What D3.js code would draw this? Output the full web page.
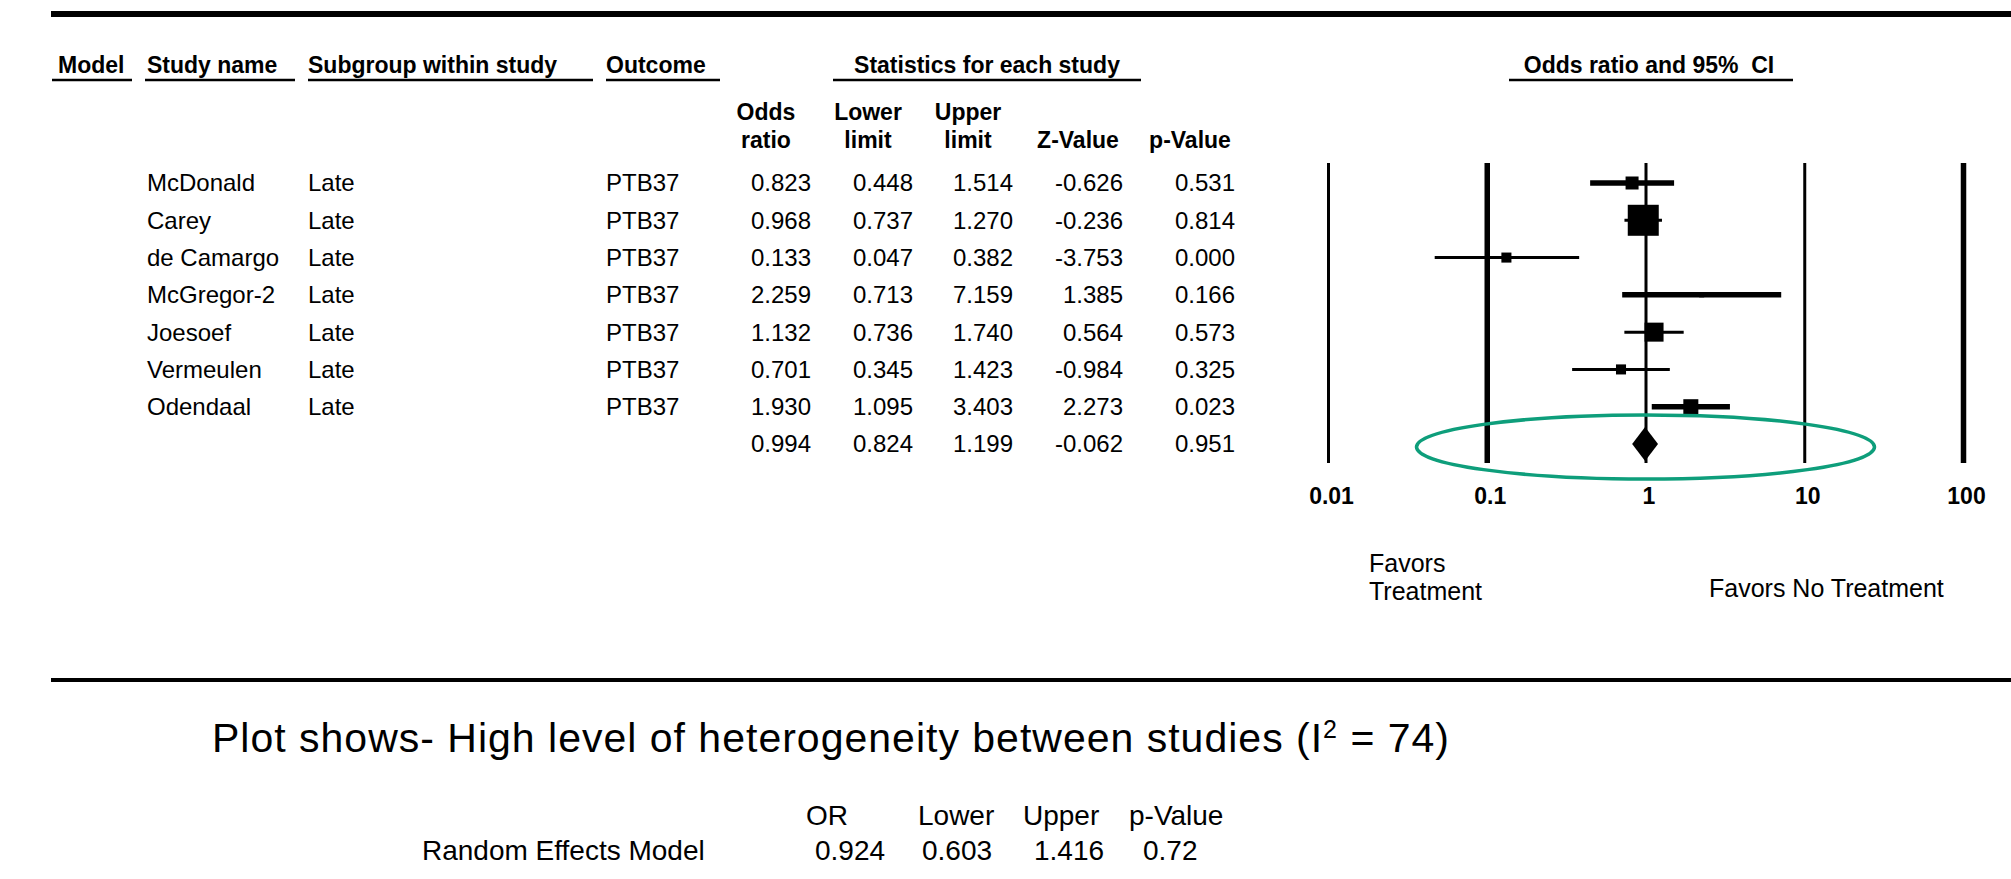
<!DOCTYPE html>
<html>
<head>
<meta charset="utf-8">
<script src="https://cdn.jsdelivr.net/npm/d3@7"></script>
<style>
  body { margin: 0; background: #fff; }
  svg { display: block; font-family: "Liberation Sans", Arial, sans-serif; }
</style>
</head>
<body>
<div id="forest"></div>
<script>
// Study rows
const studies = ["McDonald", "Carey", "de Camargo", "McGregor-2", "Joesoef", "Vermeulen", "Odendaal"];
const subgroups = ["Late", "Late", "Late", "Late", "Late", "Late", "Late"];
const outcomes = ["PTB37", "PTB37", "PTB37", "PTB37", "PTB37", "PTB37", "PTB37"];
const oddsRatio = [0.823, 0.968, 0.133, 2.259, 1.132, 0.701, 1.930];
const lowerLimit = [0.448, 0.737, 0.047, 0.713, 0.736, 0.345, 1.095];
const upperLimit = [1.514, 1.270, 0.382, 7.159, 1.740, 1.423, 3.403];
const zValue = [-0.626, -0.236, -3.753, 1.385, 0.564, -0.984, 2.273];
const pValue = [0.531, 0.814, 0.000, 0.166, 0.573, 0.325, 0.023];
// relative weight (%)
const weights = [8.7, 49.5, 5.2, 1.3, 18.6, 5.2, 11.6];

// Pooled (fixed) row: OR, lower, upper, Z, p
const pooled = [0.994, 0.824, 1.199, -0.062, 0.951];

// Axis
const tickValues = [0.01, 0.1, 1, 10, 100];
const tickLabels = ["0.01", "0.1", "1", "10", "100"];

// Random effects summary under the plot
const randomHeaders = ["OR", "Lower", "Upper", "p-Value"];
const randomValues = ["0.924", "0.603", "1.416", "0.72"];

const svgWidth = 2011;
const svgHeight = 879;

const svg = d3.select("#forest")
    .append("svg")
    .attr("width", svgWidth)
    .attr("height", svgHeight);

svg.append("rect").attr("width", svgWidth).attr("height", svgHeight).attr("fill", "#fff");

// Scales
const x = d3.scaleLog().domain([0.01, 100]).range([1328, 1963]);
const rowY = d3.scalePoint().domain(d3.range(studies.length + 1)).range([183, 444]);
const boxSize = d3.scaleSqrt().domain([0, d3.max(weights)]).range([0, 31]);

// Horizontal rules
svg.append("line").attr("x1", 51).attr("x2", svgWidth).attr("y1", 14).attr("y2", 14)
    .attr("stroke", "#000").attr("stroke-width", 6);
svg.append("line").attr("x1", 51).attr("x2", svgWidth).attr("y1", 680).attr("y2", 680)
    .attr("stroke", "#000").attr("stroke-width", 4);

// Column headers
const headers = [
    { text: "Model", x: 58, anchor: "start", u: [52, 132] },
    { text: "Study name", x: 147, anchor: "start", u: [145, 295] },
    { text: "Subgroup within study", x: 308, anchor: "start", u: [308, 593] },
    { text: "Outcome", x: 606, anchor: "start", u: [606, 720] },
    { text: "Statistics for each study", x: 987, anchor: "middle", u: [833, 1141] },
    { text: "Odds ratio and 95%  CI", x: 1649, anchor: "middle", u: [1509, 1793] }
];

svg.append("g").selectAll("text")
    .data(headers)
    .join("text")
    .attr("x", d => d.x)
    .attr("y", 73)
    .attr("text-anchor", d => d.anchor)
    .attr("font-size", 23)
    .attr("font-weight", "bold")
    .style("white-space", "pre")
    .text(d => d.text);

svg.append("g").selectAll("line")
    .data(headers)
    .join("line")
    .attr("x1", d => d.u[0])
    .attr("x2", d => d.u[1])
    .attr("y1", 80)
    .attr("y2", 80)
    .attr("stroke", "#000")
    .attr("stroke-width", 2.5);

// Statistic columns (right edges)
const colRight = [811, 913, 1013, 1123, 1235];
const subHeads = [["Odds", "ratio"], ["Lower", "limit"], ["Upper", "limit"], ["", "Z-Value"], ["", "p-Value"]];

const subG = svg.append("g")
    .attr("font-size", 23)
    .attr("font-weight", "bold")
    .attr("text-anchor", "middle");
subHeads.forEach((lines, i) => {
    lines.forEach((t, j) => {
        subG.append("text")
            .attr("x", colRight[i] - 45)
            .attr("y", j === 0 ? 120 : 148)
            .text(t);
    });
});

// Study text rows
const rows = studies.map((s, i) => ({
    i, name: s, sub: subgroups[i], out: outcomes[i],
    stats: [oddsRatio[i], lowerLimit[i], upperLimit[i], zValue[i], pValue[i]]
}));

const rowG = svg.append("g").attr("font-size", 24);

rowG.selectAll(".name")
    .data(rows)
    .join("text")
    .attr("class", "name")
    .attr("x", 147)
    .attr("y", d => rowY(d.i))
    .attr("dy", "0.35em")
    .text(d => d.name);

rowG.selectAll(".sub")
    .data(rows)
    .join("text")
    .attr("class", "sub")
    .attr("x", 308)
    .attr("y", d => rowY(d.i))
    .attr("dy", "0.35em")
    .text(d => d.sub);

rowG.selectAll(".out")
    .data(rows)
    .join("text")
    .attr("class", "out")
    .attr("x", 606)
    .attr("y", d => rowY(d.i))
    .attr("dy", "0.35em")
    .text(d => d.out);

const statCells = [];
rows.forEach(r => r.stats.forEach((v, c) => statCells.push({ row: r.i, col: c, v })));
pooled.forEach((v, c) => statCells.push({ row: studies.length, col: c, v }));

rowG.selectAll(".stat")
    .data(statCells)
    .join("text")
    .attr("class", "stat")
    .attr("x", d => colRight[d.col])
    .attr("y", d => rowY(d.row))
    .attr("dy", "0.35em")
    .attr("text-anchor", "end")
    .text(d => d.v.toFixed(3));

// Axis with full-height tick lines
const axis = d3.axisBottom(x)
    .tickValues(tickValues)
    .tickFormat((d, i) => tickLabels[i])
    .tickSize(300)
    .tickPadding(25);

const axisG = svg.append("g")
    .attr("transform", "translate(0,163)")
    .call(axis)
    .attr("font-size", 23)
    .attr("font-family", null)
    .attr("font-weight", "bold");

axisG.select(".domain").remove();
axisG.selectAll(".tick line")
    .attr("stroke", "#000")
    .attr("stroke-width", (d, i) => (i === 1 || i === 4) ? 5.5 : 3);
axisG.selectAll(".tick text")
    .attr("fill", "#000")
    .attr("dx", 3);

// Confidence intervals
const thickCI = new Set(["McDonald", "McGregor-2", "Odendaal"]);

svg.append("g").selectAll("line")
    .data(rows)
    .join("line")
    .attr("x1", d => x(d.stats[1]))
    .attr("x2", d => x(d.stats[2]))
    .attr("y1", d => rowY(d.i))
    .attr("y2", d => rowY(d.i))
    .attr("stroke", "#000")
    .attr("stroke-width", d => thickCI.has(d.name) ? 5.5 : 3);

svg.append("g").selectAll("rect")
    .data(rows)
    .join("rect")
    .attr("x", d => x(d.stats[0]) - boxSize(weights[d.i]) / 2)
    .attr("y", d => rowY(d.i) - boxSize(weights[d.i]) / 2)
    .attr("width", d => boxSize(weights[d.i]))
    .attr("height", d => boxSize(weights[d.i]))
    .attr("fill", "#000");

// Pooled diamond
const py = rowY(studies.length);
svg.append("path")
    .attr("d", `M${x(pooled[1])},${py} L${x(pooled[0])},${py - 17} L${x(pooled[2])},${py} L${x(pooled[0])},${py + 17} Z`)
    .attr("fill", "#000");

// Highlight ellipse
svg.append("ellipse")
    .attr("cx", x(1))
    .attr("cy", py + 3)
    .attr("rx", 229)
    .attr("ry", 32)
    .attr("fill", "none")
    .attr("stroke", "#0e9e7b")
    .attr("stroke-width", 3.5);

// Favors labels
const favG = svg.append("g").attr("font-size", 25);
favG.append("text").attr("x", 1369).attr("y", 572).text("Favors");
favG.append("text").attr("x", 1369).attr("y", 600).text("Treatment");
favG.append("text").attr("x", 1709).attr("y", 597).text("Favors No Treatment");

// Caption
const cap = svg.append("text")
    .attr("x", 212)
    .attr("y", 752)
    .attr("font-size", 41)
    .attr("textLength", 1237)
    .attr("lengthAdjust", "spacing");
cap.append("tspan").text("Plot shows- High level of heterogeneity between studies (I");
cap.append("tspan").attr("baseline-shift", "super").attr("font-size", 25).text("2");
cap.append("tspan").text(" = 74)");

// Random effects table
const reG = svg.append("g").attr("font-size", 28);
const reHeadX = [806, 918, 1023, 1129];
const reValX = [815, 922, 1034, 1143];
reG.selectAll(".rh")
    .data(randomHeaders)
    .join("text")
    .attr("class", "rh")
    .attr("x", (d, i) => reHeadX[i])
    .attr("y", 825)
    .text(d => d);
reG.append("text").attr("x", 422).attr("y", 860).text("Random Effects Model");
reG.selectAll(".rv")
    .data(randomValues)
    .join("text")
    .attr("class", "rv")
    .attr("x", (d, i) => reValX[i])
    .attr("y", 860)
    .text(d => d);
</script>
</body>
</html>
